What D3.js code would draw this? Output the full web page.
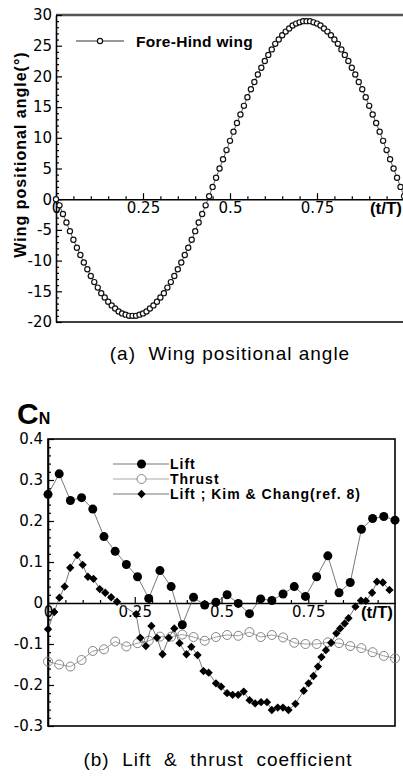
<!DOCTYPE html>
<html>
<head>
<meta charset="utf-8">
<script src="https://cdn.jsdelivr.net/npm/d3@7"></script>
<style>
  body { margin: 0; background: #fff; }
  svg { display: block; font-family: "Liberation Sans", Arial, sans-serif; }
  .tick text { font-family: "DejaVu Sans", sans-serif; font-size: 15px; fill: #000; }
  .tick line { stroke: #000; stroke-width: 1.2; }
</style>
</head>
<body>
<div id="figure"></div>
<script>
// (a) wing positional angle, sampled every 0.01 t/T
const angleStep = 0.01
const angleValues = [0.0, -1.0, -2.4, -3.8, -5.2, -6.6, -7.9, -9.1, -10.3, -11.4, -12.5, -13.5, -14.4, -15.3, -16.0,
  -16.7, -17.3, -17.8, -18.3, -18.6, -18.8, -19.0, -19.0, -19.0, -18.8, -18.6, -18.3, -17.8, -17.3, -16.7, -16.0,
  -15.3, -14.4, -13.5, -12.5, -11.4, -10.3, -9.1, -7.9, -6.6, -5.2, -3.8, -2.4, -1.0, 0.5, 2.0, 3.5, 5.0, 6.5, 8.0,
  9.5, 11.0, 12.4, 13.8, 15.2, 16.6, 17.9, 19.1, 20.3, 21.4, 22.5, 23.5, 24.4, 25.3, 26.0, 26.7, 27.3, 27.8, 28.3,
  28.6, 28.8, 29.0, 29.0, 29.0, 28.8, 28.6, 28.3, 27.8, 27.3, 26.7, 26.0, 25.3, 24.4, 23.5, 22.5, 21.4, 20.3, 19.1,
  17.9, 16.6, 15.2, 13.8, 12.4, 11.0, 9.5, 8.0, 6.5, 5.0, 3.5, 2.0, 0.5]
const angleTicks = [-20, -15, -10, -5, 0, 5, 10, 15, 20, 25, 30]

// (b) lift & thrust coefficient, 32 samples over one period
const coefStep = 1 / 31
const liftValues = [0.265, 0.315, 0.250, 0.257, 0.229, 0.162, 0.126, 0.094, 0.064, 0.011, 0.079, 0.040, -0.053,
  0.014, -0.005, 0.002, 0.020, -0.001, -0.026, 0.010, 0.006, 0.022, 0.040, 0.016, 0.064, 0.115, 0.025, 0.050,
  0.180, 0.206, 0.211, 0.202]
const thrustValues = [-0.143, -0.150, -0.155, -0.139, -0.117, -0.113, -0.094, -0.106, -0.098, -0.092, -0.082,
  -0.082, -0.077, -0.083, -0.092, -0.083, -0.078, -0.080, -0.071, -0.083, -0.078, -0.084, -0.097, -0.100, -0.100,
  -0.096, -0.098, -0.105, -0.110, -0.120, -0.129, -0.135]
const kimT = [0, 0.018, 0.033, 0.048, 0.064, 0.084, 0.100, 0.115, 0.131, 0.149, 0.165, 0.182, 0.199, 0.254, 0.266,
  0.282, 0.298, 0.314, 0.330, 0.348, 0.364, 0.379, 0.399, 0.413, 0.431, 0.448, 0.463, 0.484, 0.499, 0.516, 0.532,
  0.548, 0.564, 0.581, 0.597, 0.614, 0.631, 0.645, 0.662, 0.677, 0.693, 0.713, 0.737, 0.751, 0.765, 0.778, 0.788,
  0.801, 0.816, 0.831, 0.842, 0.855, 0.866, 0.886, 0.902, 0.916, 0.934, 0.948, 0.965, 0.984]
const kimValues = [-0.064, -0.022, 0.013, 0.040, 0.086, 0.117, 0.093, 0.064, 0.059, 0.034, 0.025, 0.014, 0.003,
  -0.027, -0.085, -0.105, -0.056, -0.085, -0.125, -0.085, -0.062, -0.098, -0.125, -0.107, -0.127, -0.166, -0.170,
  -0.196, -0.204, -0.220, -0.224, -0.224, -0.216, -0.237, -0.245, -0.242, -0.242, -0.261, -0.255, -0.255, -0.261,
  -0.246, -0.214, -0.196, -0.178, -0.155, -0.132, -0.115, -0.097, -0.074, -0.062, -0.050, -0.037, -0.009, 0.006,
  0.005, 0.025, 0.052, 0.050, 0.032]
const coefTicks = [-0.3, -0.2, -0.1, 0, 0.1, 0.2, 0.3, 0.4]
const phaseTicks = [0, 0.25, 0.5, 0.75]
const phaseMinor = [0.05, 0.1, 0.15, 0.2, 0.3, 0.35, 0.4, 0.45, 0.55, 0.6, 0.65, 0.7, 0.8, 0.85, 0.9, 0.95]
const legendItems = ['Lift', 'Thrust', 'Lift ; Kim & Chang(ref. 8)']

const svg = d3.select('#figure').append('svg')
  .attr('width', 403)
  .attr('height', 779)

function minorTicks (majors, per) {
  const out = []
  for (let i = 0; i < majors.length - 1; i++) {
    const step = (majors[i + 1] - majors[i]) / per
    for (let k = 1; k < per; k++) out.push(majors[i] + k * step)
  }
  return out
}

function drawAxes (g, x, y, yTicks, yFmt, pad) {
  // left axis, ticks pointing inside
  g.append('g')
    .attr('transform', `translate(${x.range()[0]},0)`)
    .call(d3.axisLeft(y).tickValues(yTicks).tickFormat(yFmt).tickSize(-6).tickSizeOuter(0).tickPadding(pad))
    .call(s => s.select('.domain').attr('stroke', '#000').attr('stroke-width', 1.6))
  g.append('g')
    .attr('transform', `translate(${x.range()[0]},0)`)
    .call(d3.axisLeft(y).tickValues(minorTicks(yTicks, 5)).tickFormat('').tickSize(-3).tickSizeOuter(0))
    .call(s => s.select('.domain').remove())

  // x axis drawn through zero
  g.append('g')
    .attr('transform', `translate(0,${y(0)})`)
    .call(d3.axisBottom(x).tickValues(phaseTicks).tickFormat(d => d).tickSize(-6).tickSizeOuter(0).tickPadding(3))
    .call(s => s.select('.domain').attr('stroke', '#000').attr('stroke-width', 1.6))
  g.append('g')
    .attr('transform', `translate(0,${y(0)})`)
    .call(d3.axisBottom(x).tickValues(phaseMinor).tickFormat('').tickSize(-3).tickSizeOuter(0))
    .call(s => s.select('.domain').remove())

  g.append('text')
    .attr('x', x.range()[1] - 2)
    .attr('y', y(0) + 15)
    .attr('text-anchor', 'end')
    .attr('font-weight', 'bold')
    .attr('font-size', 17)
    .text('(t/T)')
}

// ---------- (a) ----------
const xa = d3.scaleLinear().domain([0, 1]).range([56, 404])
const ya = d3.scaleLinear().domain([-20, 30]).range([322, 15])
const ga = svg.append('g')

ga.append('line').attr('x1', xa(0)).attr('x2', 403).attr('y1', ya(30)).attr('y2', ya(30))
  .attr('stroke', '#555').attr('stroke-width', 2.5)
ga.append('line').attr('x1', xa(0)).attr('x2', 403).attr('y1', ya(-20)).attr('y2', ya(-20))
  .attr('stroke', '#000').attr('stroke-width', 1.6)

drawAxes(ga, xa, ya, angleTicks, d => d, 4)

const angleLine = d3.line().x((d, i) => xa(i * angleStep)).y(d => ya(d))
ga.append('path').datum(angleValues)
  .attr('d', angleLine).attr('fill', 'none').attr('stroke', '#333').attr('stroke-width', 0.8)
ga.append('g').selectAll('circle').data(angleValues).join('circle')
  .attr('cx', (d, i) => xa(i * angleStep)).attr('cy', d => ya(d)).attr('r', 2.6)
  .attr('fill', '#fff').attr('stroke', '#111').attr('stroke-width', 1.2)

// legend
ga.append('line').attr('x1', 76).attr('x2', 124).attr('y1', 41).attr('y2', 41).attr('stroke', '#333')
ga.append('circle').attr('cx', 100).attr('cy', 41).attr('r', 2.6)
  .attr('fill', '#fff').attr('stroke', '#111').attr('stroke-width', 1.2)
ga.append('text').attr('x', 136).attr('y', 47).attr('font-weight', 'bold').attr('font-size', 15.5)
  .attr('letter-spacing', 0.3).text('Fore-Hind wing')

ga.append('text')
  .attr('transform', `translate(26,${(ya(-20) + ya(30)) / 2 - 14}) rotate(-90)`)
  .attr('text-anchor', 'middle').attr('font-weight', 'bold').attr('font-size', 16)
  .attr('letter-spacing', 1).text('Wing positional angle(°)')

svg.append('text').attr('x', 230).attr('y', 360).attr('text-anchor', 'middle')
  .attr('font-size', 19).attr('letter-spacing', 1).style('white-space', 'pre')
  .text('(a)  Wing positional angle')

// ---------- (b) ----------
const xb = d3.scaleLinear().domain([0, 1]).range([48, 395])
const yb = d3.scaleLinear().domain([-0.3, 0.4]).range([726, 439])
const gb = svg.append('g')

gb.append('rect').attr('x', xb(0)).attr('y', yb(0.4)).attr('width', xb(1) - xb(0)).attr('height', yb(-0.3) - yb(0.4))
  .attr('fill', 'none').attr('stroke', '#000').attr('stroke-width', 1.6)

drawAxes(gb, xb, yb, coefTicks, d => String(d), 5)

const coefLine = d3.line().x((d, i) => xb(i * coefStep)).y(d => yb(d))
const kimLine = d3.line().x((d, i) => xb(kimT[i])).y(d => yb(d))
const diamond = d3.symbol().type(d3.symbolDiamond2).size(44)

gb.append('path').datum(thrustValues).attr('d', coefLine)
  .attr('fill', 'none').attr('stroke', '#888').attr('stroke-width', 0.8)
gb.append('g').selectAll('circle').data(thrustValues).join('circle')
  .attr('cx', (d, i) => xb(i * coefStep)).attr('cy', d => yb(d)).attr('r', 4.5)
  .attr('fill', 'none').attr('stroke', '#777').attr('stroke-width', 0.9)

gb.append('path').datum(liftValues).attr('d', coefLine)
  .attr('fill', 'none').attr('stroke', '#555').attr('stroke-width', 0.8)
gb.append('g').selectAll('circle').data(liftValues).join('circle')
  .attr('cx', (d, i) => xb(i * coefStep)).attr('cy', d => yb(d)).attr('r', 4.5).attr('fill', '#000')

gb.append('path').datum(kimValues).attr('d', kimLine)
  .attr('fill', 'none').attr('stroke', '#555').attr('stroke-width', 0.8)
gb.append('g').selectAll('path').data(kimValues).join('path')
  .attr('d', diamond).attr('fill', '#000')
  .attr('transform', (d, i) => `translate(${xb(kimT[i])},${yb(d)})`)

// legend
const legendY = [464, 479, 494]
legendItems.forEach((name, i) => {
  const y = legendY[i]
  gb.append('line').attr('x1', 113).attr('x2', 169).attr('y1', y).attr('y2', y)
    .attr('stroke', i === 1 ? '#aaa' : '#777')
  if (i === 0) gb.append('circle').attr('cx', 141.5).attr('cy', y).attr('r', 4.5).attr('fill', '#000')
  if (i === 1) gb.append('circle').attr('cx', 141.5).attr('cy', y).attr('r', 4.5)
    .attr('fill', '#fff').attr('stroke', '#777').attr('stroke-width', 0.9)
  if (i === 2) gb.append('path').attr('d', diamond).attr('fill', '#000')
    .attr('transform', `translate(141.5,${y})`)
  gb.append('text').attr('x', 170).attr('y', y + 5).attr('font-weight', 'bold').attr('font-size', 14)
    .attr('letter-spacing', 1).text(name)
})

// C_N
const cn = svg.append('text').attr('x', 17).attr('y', 424).attr('font-weight', 'bold')
cn.append('tspan').attr('font-size', 30).text('C')
cn.append('tspan').attr('font-size', 16).text('N')

svg.append('text').attr('x', 218).attr('y', 766).attr('text-anchor', 'middle')
  .attr('font-size', 19).attr('letter-spacing', 1).style('white-space', 'pre')
  .text('(b)  Lift  &  thrust  coefficient')
</script>
</body>
</html>
